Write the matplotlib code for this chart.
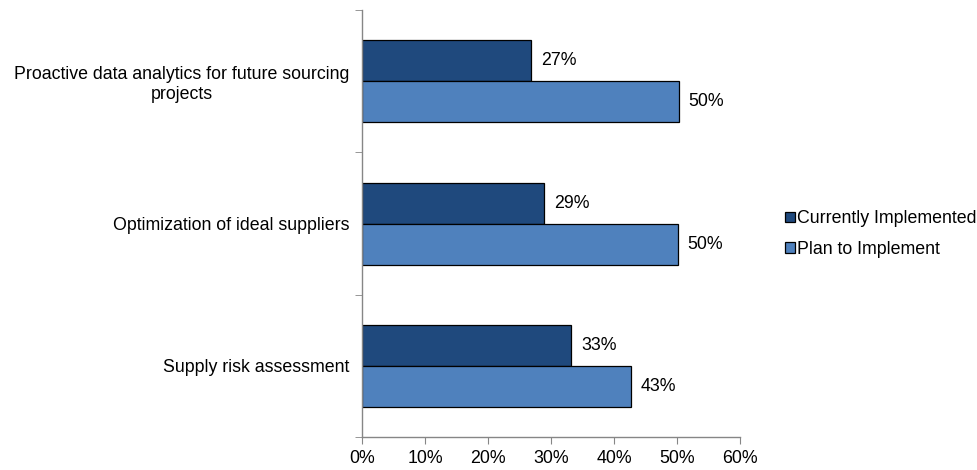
#!/usr/bin/env python
# -*- coding: utf-8 -*-
"""Implemented vs planned analytics capabilities, horizontal bars."""
import numpy as np
import matplotlib
matplotlib.use("Agg")
import matplotlib.pyplot as plt

plt.rcParams['font.family'] = ['Liberation Sans', 'DejaVu Sans']

categories = ["Proactive data analytics for future sourcing\nprojects",
              "Optimization of ideal suppliers",
              "Supply risk assessment"]
current = [0.268, 0.289, 0.332]
planned = [0.502, 0.501, 0.427]
series_names = ["Currently Implemented", "Plan to Implement"]
x_ticks = [0, 0.1, 0.2, 0.3, 0.4, 0.5, 0.6]

dark = "#1F497D"
light = "#4F81BD"
FS = 12.8


def main():
    """Run main."""
    fig = plt.figure(figsize=(9.78, 4.70), dpi=100)
    ax = fig.add_axes([0.370, 0.0702, 0.387, 0.9085])

    pos = np.arange(len(categories))
    h = 0.288
    b1 = ax.barh(pos - h / 2, current, height=h, color=dark,
                 edgecolor="black", linewidth=0.9, label=series_names[0])
    b2 = ax.barh(pos + h / 2, planned, height=h, color=light,
                 edgecolor="black", linewidth=0.9, label=series_names[1])

    for bars, vals in ((b1, current), (b2, planned)):
        for bar, v in zip(bars, vals):
            ax.annotate("{:.0%}".format(v),
                        xy=(v, bar.get_y() + bar.get_height() / 2),
                        xytext=(7, 0), textcoords="offset points",
                        va="center", ha="left", fontsize=FS)

    ax.set_ylim(len(categories) - 0.5, -0.5)
    ax.set_xlim(0, 0.6)
    ax.set_xticks(x_ticks)
    ax.set_xticklabels(["{:.0%}".format(t) for t in x_ticks], fontsize=FS)
    ax.set_yticks(pos)
    ax.set_yticklabels(categories, fontsize=FS, multialignment="center")
    ax.set_yticks([-0.5, 0.5, 1.5, 2.5], minor=True)
    ax.tick_params(axis="y", which="major", length=0, pad=9)
    ax.tick_params(axis="y", which="minor", length=5, color="#868686", direction="out")
    ax.tick_params(axis="x", length=5, color="#868686", direction="out", pad=4)

    for side in ("top", "right"):
        ax.spines[side].set_visible(False)
    for side in ("left", "bottom"):
        ax.spines[side].set_color("#868686")
        ax.spines[side].set_linewidth(1)

    fig.legend(handles=[b1, b2], loc="center left",
               bbox_to_anchor=(785 / 978, 1 - 234 / 470), frameon=False,
               fontsize=FS, handlelength=0.55, handleheight=0.55,
               handletextpad=0.15, labelspacing=0.75, borderaxespad=0,
               borderpad=0)

    fig.savefig("out.png", dpi=100)


if __name__ == '__main__':
    main()
